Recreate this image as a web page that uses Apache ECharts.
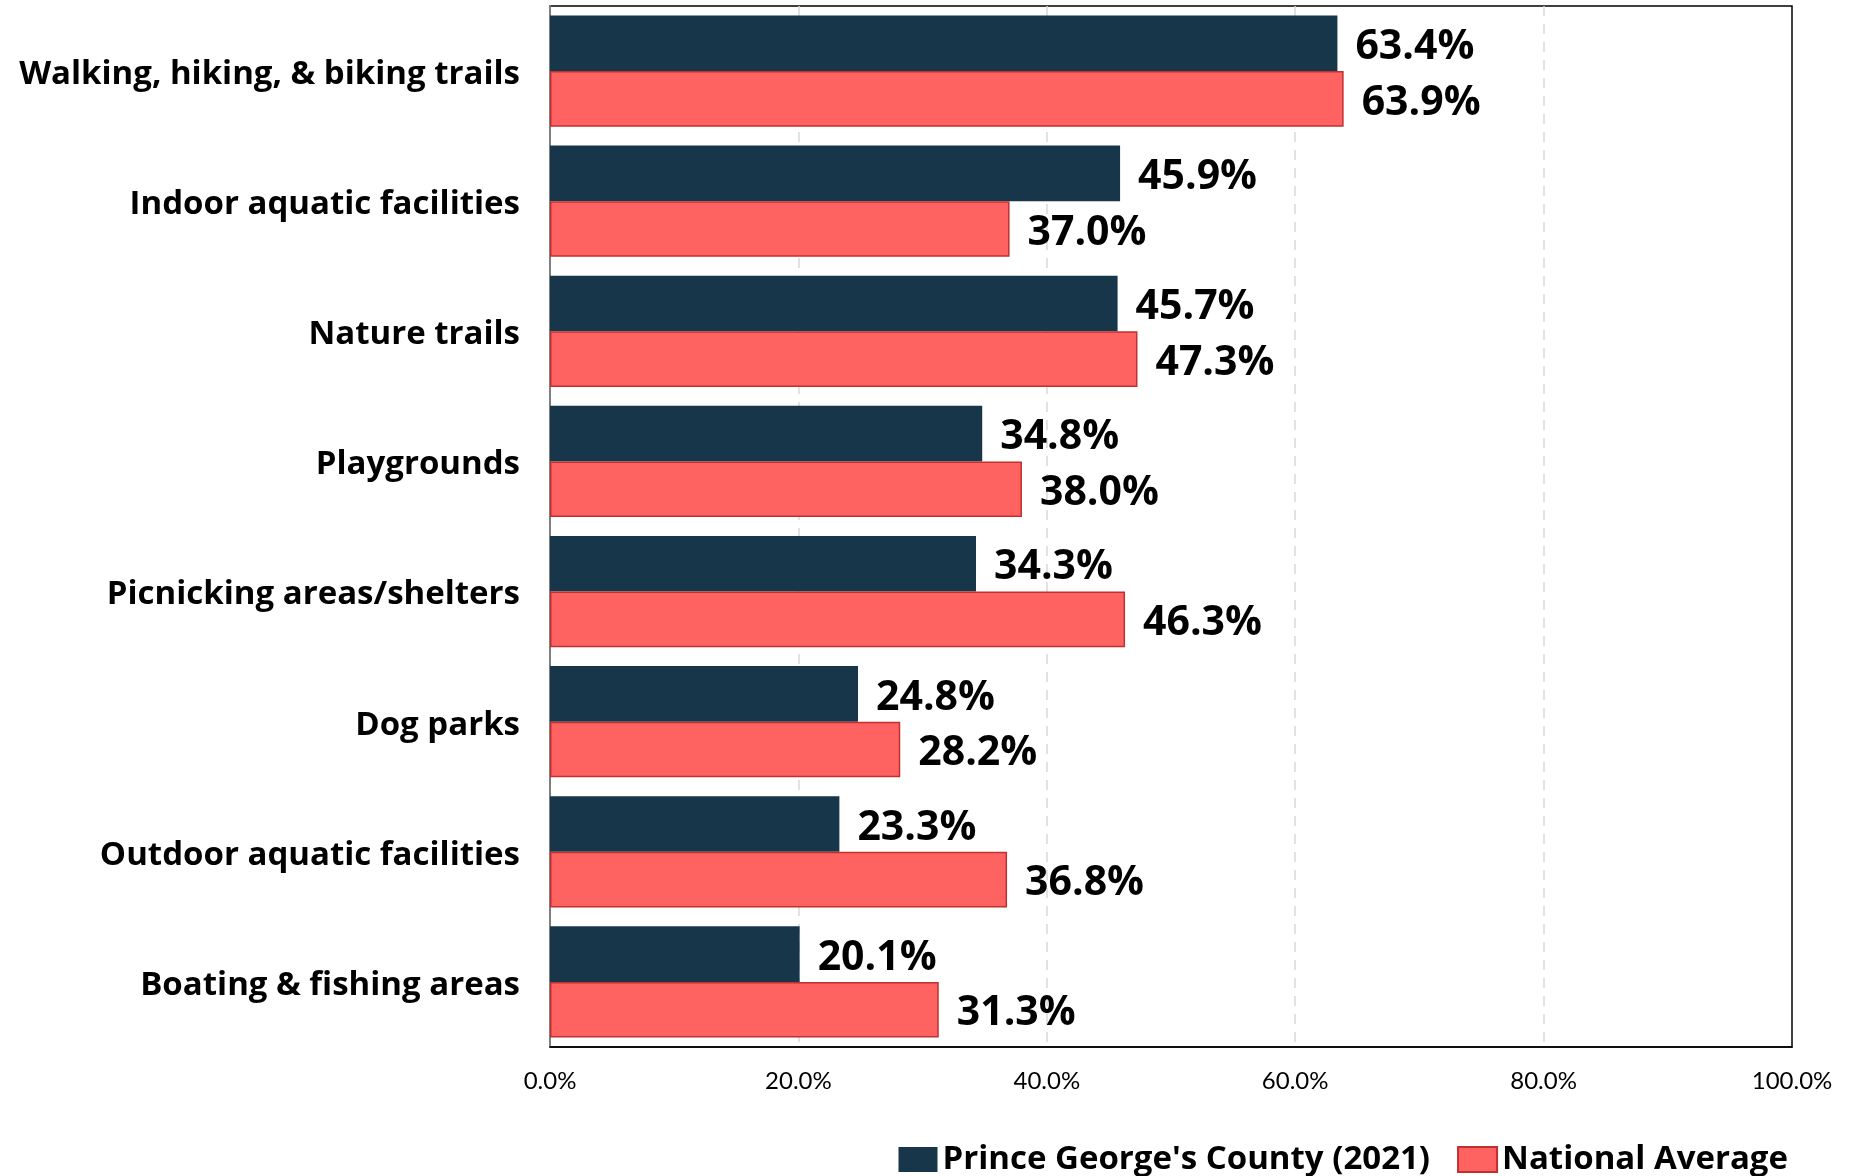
<!DOCTYPE html>
<html>
<head>
<meta charset="utf-8">
<title>Park amenities used: Prince George's County vs national average</title>
<script src="https://cdn.jsdelivr.net/npm/echarts@6/dist/echarts.min.js"></script>
<style>
  html, body { margin: 0; padding: 0; background: #fff; }
  #chart { width: 1852px; height: 1176px; }
</style>
</head>
<body>
<div id="chart"></div>
<script>
// Facility categories, top to bottom
const categories = [
  'Walking, hiking, & biking trails',
  'Indoor aquatic facilities',
  'Nature trails',
  'Playgrounds',
  'Picnicking areas/shelters',
  'Dog parks',
  'Outdoor aquatic facilities',
  'Boating & fishing areas'
];

// Share of respondents (%)
const countyValues = [63.4, 45.9, 45.7, 34.8, 34.3, 24.8, 23.3, 20.1];
const nationalValues = [63.9, 37.0, 47.3, 38.0, 46.3, 28.2, 36.8, 31.3];

const seriesNames = ["Prince George's County (2021)", 'National Average'];
const xTicks = { min: 0, max: 100, interval: 20 };

const BOLD_FONT = '"Open Sans", "Noto Sans", sans-serif';
const TICK_FONT = 'Lato, "Noto Sans", sans-serif';

const chart = echarts.init(document.getElementById('chart'), null, { renderer: 'canvas' });

const valueLabel = {
  show: true,
  position: 'right',
  distance: 18,
  offset: [0, 4],
  formatter: p => p.value.toFixed(1) + '%',
  fontFamily: BOLD_FONT,
  fontWeight: 'bold',
  fontSize: 41,
  color: '#000'
};

chart.setOption({
  animation: false,
  backgroundColor: '#fff',
  grid: {
    left: 550, top: 6, width: 1242, height: 1041,
    show: true, borderColor: '#000', borderWidth: 1.5, backgroundColor: 'transparent'
  },
  legend: {
    right: 59, top: 1138,
    itemWidth: 39, itemHeight: 25, itemGap: 27,
    icon: 'rect',
    textStyle: { fontFamily: BOLD_FONT, fontWeight: 'bold', fontSize: 33, color: '#000' },
    data: seriesNames
  },
  xAxis: {
    type: 'value',
    min: xTicks.min, max: xTicks.max, interval: xTicks.interval,
    axisLine: { show: true, lineStyle: { color: '#000', width: 1.5 } },
    axisTick: { show: false },
    axisLabel: {
      margin: 22,
      fontFamily: TICK_FONT, fontSize: 24, color: '#000',
      formatter: v => v.toFixed(1) + '%'
    },
    splitLine: {
      show: true, showMinLine: false, showMaxLine: false,
      lineStyle: { color: '#d9d9d9', type: [10, 8], width: 1.5 }
    }
  },
  yAxis: {
    type: 'category',
    data: categories,
    inverse: true,
    axisLine: { show: true, lineStyle: { color: '#7f7f7f', width: 2 } },
    axisTick: { show: false },
    axisLabel: {
      margin: 30,
      formatter: v => '{c|' + v + '}',
      rich: {
        c: {
          padding: [7, 0, 0, 0],
          fontFamily: BOLD_FONT, fontWeight: 'bold', fontSize: 33, color: '#000'
        }
      }
    },
    splitLine: { show: false }
  },
  series: [
    {
      name: seriesNames[0],
      type: 'bar',
      data: countyValues,
      barGap: '0%',
      barCategoryGap: '14.6%',
      itemStyle: { color: '#17364a' },
      label: valueLabel
    },
    {
      name: seriesNames[1],
      type: 'bar',
      data: nationalValues,
      barGap: '0%',
      barCategoryGap: '14.6%',
      itemStyle: { color: '#ff6361', borderColor: '#c0302e', borderWidth: 1.5 },
      label: valueLabel
    }
  ]
});
</script>
</body>
</html>
